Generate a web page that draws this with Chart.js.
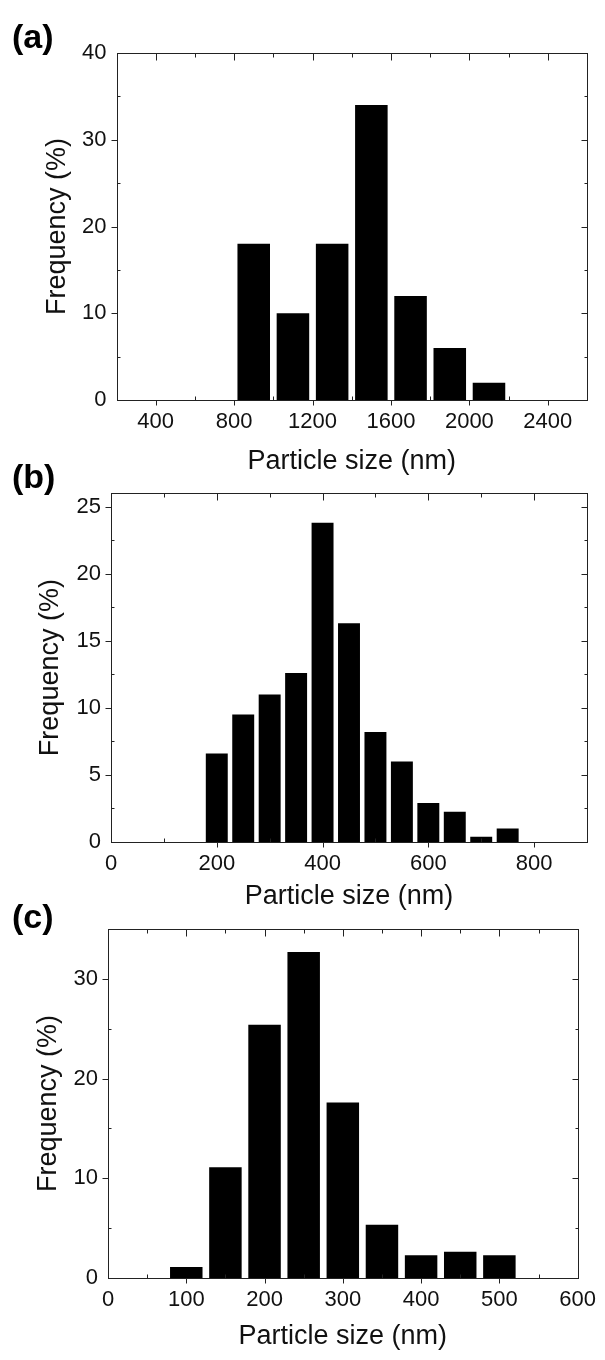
<!DOCTYPE html>
<html>
<head>
<meta charset="utf-8">
<script src="https://cdn.jsdelivr.net/npm/chart.js@4.4.0/dist/chart.umd.min.js"></script>
<style>
  body { margin: 0; background: #fff; width: 605px; height: 1360px; position: relative; overflow: hidden; }
  canvas { position: absolute; left: 0; }
  .lbl { position: absolute; left: 12px; font: bold 34px 'Liberation Sans', Arial, sans-serif; line-height: 34px; color: #000; }
</style>
</head>
<body>
<canvas id="chartA" width="605" height="480" style="top:0px"></canvas>
<canvas id="chartB" width="605" height="445" style="top:470px"></canvas>
<canvas id="chartC" width="605" height="455" style="top:905px"></canvas>
<div class="lbl" style="top:19px">(a)</div>
<div class="lbl" style="top:459px">(b)</div>
<div class="lbl" style="top:899px">(c)</div>

<script>
// (a) bin centres (nm) and frequency (%)
var sizesA = [900, 1100, 1300, 1500, 1700, 1900, 2100];
var freqA = [18, 10, 18, 34, 12, 6, 2];
var xLabelsA = [400, 800, 1200, 1600, 2000, 2400];
var yLabelsA = [0, 10, 20, 30, 40];

// (b)
var sizesB = [200, 250, 300, 350, 400, 450, 500, 550, 600, 650, 700, 750];
var freqB = [6.6, 9.5, 11.0, 12.6, 23.8, 16.3, 8.2, 6.0, 2.9, 2.25, 0.4, 1.0];
var xLabelsB = [0, 200, 400, 600, 800];
var yLabelsB = [0, 5, 10, 15, 20, 25];

// (c)
var sizesC = [100, 150, 200, 250, 300, 350, 400, 450, 500];
var freqC = [1.1, 11.1, 25.4, 32.7, 17.6, 5.35, 2.27, 2.64, 2.27];
var xLabelsC = [0, 100, 200, 300, 400, 500, 600];
var yLabelsC = [0, 10, 20, 30];

var FONT = "'Liberation Sans', Arial, sans-serif";

// box with ticks like the Origin plot: bottom/left majors point out, everything else points in
var framePlugin = {
  id: 'frame',
  afterDatasetsDraw: function(chart) {
    var ctx = chart.ctx, a = chart.chartArea;
    var xs = chart.scales.x, ys = chart.scales.y;
    var L = Math.round(a.left) + 0.5, R = Math.round(a.right) + 0.5;
    var T = Math.round(a.top) + 0.5, B = Math.round(a.bottom) + 0.5;
    ctx.save();
    ctx.strokeStyle = '#222';
    ctx.lineWidth = 1;
    ctx.strokeRect(L, T, R - L, B - T);
    ctx.beginPath();
    xs.ticks.forEach(function(t) {
      if (t.value <= xs.min || t.value >= xs.max) return;
      var px = Math.round(xs.getPixelForValue(t.value)) + 0.5;
      var major = t.label !== '';
      if (major) { ctx.moveTo(px, B); ctx.lineTo(px, B + 5); }
      else { ctx.moveTo(px, B); ctx.lineTo(px, B - 4); }
      ctx.moveTo(px, T); ctx.lineTo(px, T + (major ? 7 : 4));
    });
    ys.ticks.forEach(function(t) {
      if (t.value <= ys.min || t.value >= ys.max) return;
      var py = Math.round(ys.getPixelForValue(t.value)) + 0.5;
      var major = t.label !== '';
      if (major) { ctx.moveTo(L, py); ctx.lineTo(L - 6, py); }
      else { ctx.moveTo(L, py); ctx.lineTo(L + 3, py); }
      ctx.moveTo(R, py); ctx.lineTo(R - (major ? 6 : 3), py);
    });
    ctx.stroke();
    ctx.restore();
  }
};

function makeChart(id, sizes, freq, xLabels, yLabels, opt) {
  var pts = sizes.map(function(s, i) { return { x: s, y: freq[i] }; });
  return new Chart(document.getElementById(id), {
    type: 'bar',
    data: {
      datasets: [{
        data: pts,
        backgroundColor: '#000',
        borderWidth: 0,
        barPercentage: 0.83,
        categoryPercentage: 1
      }]
    },
    options: {
      responsive: false,
      animation: false,
      layout: { padding: opt.pad },
      plugins: { legend: { display: false }, tooltip: { enabled: false } },
      scales: {
        x: {
          type: 'linear',
          offset: false,
          min: opt.xmin, max: opt.xmax,
          grid: { display: false, drawTicks: false },
          border: { display: false },
          ticks: {
            stepSize: opt.xstep,
            includeBounds: false,
            autoSkip: false,
            maxRotation: 0,
            padding: 9,
            color: '#111',
            font: { family: FONT, size: 22 },
            callback: function(v) { return xLabels.indexOf(v) >= 0 ? String(v) : ''; }
          },
          title: { display: true, text: 'Particle size (nm)', color: '#111', padding: 0, font: { family: FONT, size: 27 } },
          afterFit: function(s) { s.height = opt.xh; }
        },
        y: {
          min: 0, max: opt.ymax,
          grid: { display: false, drawTicks: false },
          border: { display: false },
          ticks: {
            stepSize: opt.ystep,
            includeBounds: false,
            autoSkip: false,
            padding: 10,
            color: '#111',
            font: { family: FONT, size: 22 },
            callback: function(v) { return yLabels.indexOf(v) >= 0 ? String(v) : ''; }
          },
          title: { display: true, text: 'Frequency (%)', color: '#111', padding: 0, font: { family: FONT, size: 27 } },
          afterFit: function(s) { s.width = opt.yw; }
        }
      }
    },
    plugins: [framePlugin]
  });
}

makeChart('chartA', sizesA, freqA, xLabelsA, yLabelsA, {
  xmin: 200, xmax: 2600, xstep: 200, ymax: 40, ystep: 5,
  pad: { top: 53, left: 41, right: 18, bottom: 2 }, yw: 75.5, xh: 78
});
makeChart('chartB', sizesB, freqB, xLabelsB, yLabelsB, {
  xmin: 0, xmax: 900, xstep: 100, ymax: 26, ystep: 2.5,
  pad: { top: 23, left: 34, right: 18, bottom: 2 }, yw: 77, xh: 71
});
makeChart('chartC', sizesC, freqC, xLabelsC, yLabelsC, {
  xmin: 0, xmax: 600, xstep: 50, ymax: 35, ystep: 5,
  pad: { top: 24, left: 32, right: 22.5, bottom: 7 }, yw: 76, xh: 75
});
</script>
</body>
</html>
